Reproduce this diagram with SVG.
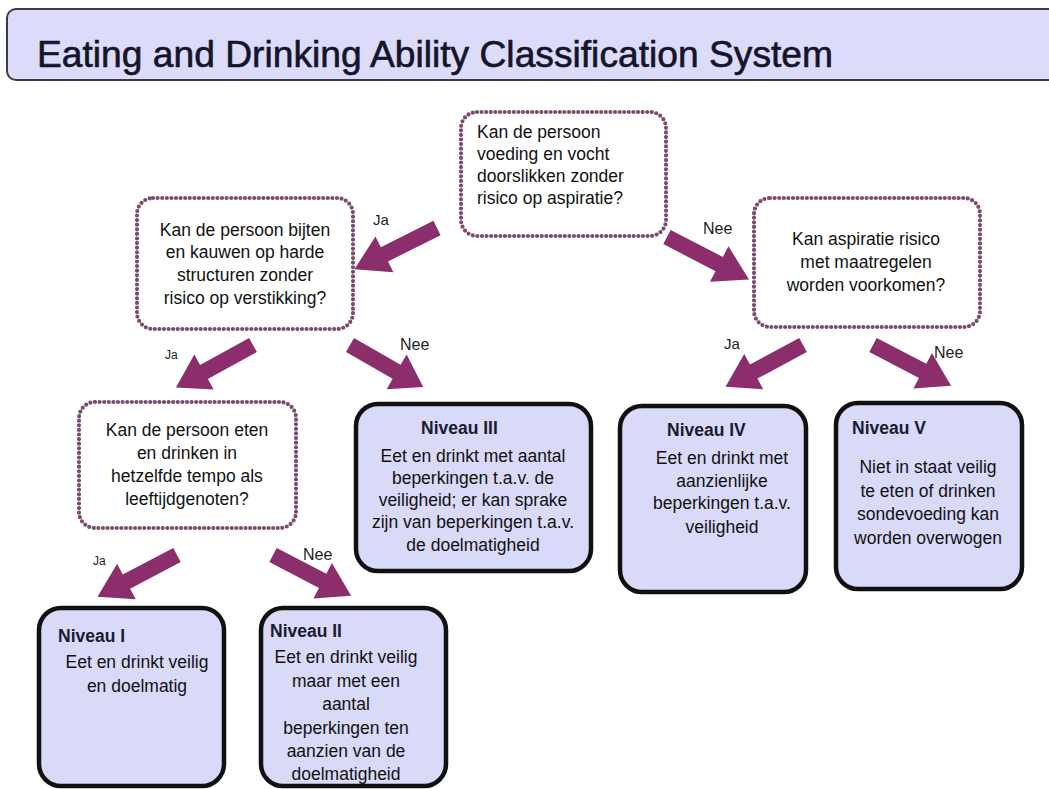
<svg xmlns="http://www.w3.org/2000/svg" width="1049" height="789" viewBox="0 0 1049 789">
<style>
.q{fill:#ffffff;stroke:#7a4c70;stroke-width:4.2;stroke-dasharray:0 4.6;stroke-linecap:round}
.lv{fill:#d9d9f8;stroke:#111;stroke-width:4.5}
.t{font-family:"Liberation Sans",Arial,sans-serif;font-size:17.5px;fill:#111}
.c{text-anchor:middle}
.b{font-weight:bold;fill:#1a1a30}
.lab{font-family:"Liberation Sans",Arial,sans-serif;fill:#222}
.arr{fill:#8c2d6c}
</style>
<defs>
<path id="arrow" d="M0,-8 L56,-8 L56,-20 L88,0 L56,20 L56,8 L0,8 Z"/>
</defs>
<rect x="0" y="0" width="1049" height="789" fill="#ffffff"/>
<g id="title">
<rect x="7" y="9" width="1060" height="71" rx="9" fill="#dcdcfa" stroke="#3a3a48" stroke-width="2"/>
<text x="37" y="67" font-family="Liberation Sans Narrow,Liberation Sans,Arial,sans-serif" font-size="36" fill="#14142a" stroke="#14142a" stroke-width="0.6" textLength="796" lengthAdjust="spacingAndGlyphs">Eating and Drinking Ability Classification System</text>
</g>
<g id="connectors" class="arr">
<use href="#arrow" transform="translate(437,228) rotate(153.4) scale(1.05,1)"/>
<use href="#arrow" transform="translate(667,237) rotate(27.4) scale(1.05,1)"/>
<use href="#arrow" transform="translate(253,345) rotate(151.1)"/>
<use href="#arrow" transform="translate(350,345) rotate(29.9) scale(0.96,1)"/>
<use href="#arrow" transform="translate(803,345) rotate(151.7)"/>
<use href="#arrow" transform="translate(873,345) rotate(27.5)"/>
<use href="#arrow" transform="translate(177,555) rotate(152.3) scale(1.02,1)"/>
<use href="#arrow" transform="translate(273,555) rotate(27.5)"/>
</g>
<g id="labels">
<text class="lab" x="373" y="225" font-size="15">Ja</text>
<text class="lab" x="703" y="234" font-size="16">Nee</text>
<text class="lab" x="165" y="359" font-size="12">Ja</text>
<text class="lab" x="400" y="350" font-size="16">Nee</text>
<text class="lab" x="724" y="349" font-size="15">Ja</text>
<text class="lab" x="934" y="358" font-size="16">Nee</text>
<text class="lab" x="93" y="565" font-size="12">Ja</text>
<text class="lab" x="303" y="560" font-size="16">Nee</text>
</g>
<g id="q1">
<rect class="q" x="461" y="112" width="205" height="124" rx="16"/>
<text class="t" x="477" y="138">Kan de persoon</text>
<text class="t" x="477" y="160">voeding en vocht</text>
<text class="t" x="477" y="182">doorslikken zonder</text>
<text class="t" x="477" y="204">risico op aspiratie?</text>
</g>
<g id="q2">
<rect class="q" x="137" y="198" width="216" height="131" rx="16"/>
<text class="t c" x="245" y="236">Kan de persoon bijten</text>
<text class="t c" x="245" y="258">en kauwen op harde</text>
<text class="t c" x="245" y="281">structuren zonder</text>
<text class="t c" x="245" y="304">risico op verstikking?</text>
</g>
<g id="q3">
<rect class="q" x="754" y="198" width="226" height="129" rx="16"/>
<text class="t c" x="866" y="245">Kan aspiratie risico</text>
<text class="t c" x="866" y="268">met maatregelen</text>
<text class="t c" x="866" y="291">worden voorkomen?</text>
</g>
<g id="q4">
<rect class="q" x="79" y="402" width="217" height="126" rx="16"/>
<text class="t c" x="187" y="436">Kan de persoon eten</text>
<text class="t c" x="187" y="459">en drinken in</text>
<text class="t c" x="187" y="482">hetzelfde tempo als</text>
<text class="t c" x="187" y="505">leeftijdgenoten?</text>
</g>
<g id="n3">
<rect class="lv" x="356" y="404" width="235" height="167" rx="22"/>
<text class="t b" x="421" y="434">Niveau III</text>
<text class="t c" x="473" y="462">Eet en drinkt met aantal</text>
<text class="t c" x="473" y="484">beperkingen t.a.v. de</text>
<text class="t c" x="473" y="506">veiligheid; er kan sprake</text>
<text class="t c" x="473" y="528">zijn van beperkingen t.a.v.</text>
<text class="t c" x="473" y="551">de doelmatigheid</text>
</g>
<g id="n4">
<rect class="lv" x="620" y="406" width="186" height="186" rx="22"/>
<text class="t b" x="667" y="436">Niveau IV</text>
<text class="t c" x="722" y="464">Eet en drinkt met</text>
<text class="t c" x="722" y="487">aanzienlijke</text>
<text class="t c" x="722" y="509">beperkingen t.a.v.</text>
<text class="t c" x="722" y="533">veiligheid</text>
</g>
<g id="n5">
<rect class="lv" x="836" y="403" width="186" height="186" rx="22"/>
<text class="t b" x="852" y="434">Niveau V</text>
<text class="t c" x="928" y="473">Niet in staat veilig</text>
<text class="t c" x="928" y="497">te eten of drinken</text>
<text class="t c" x="928" y="520">sondevoeding kan</text>
<text class="t c" x="928" y="544">worden overwogen</text>
</g>
<g id="n1">
<rect class="lv" x="39" y="608" width="185" height="178" rx="22"/>
<text class="t b" x="58" y="642">Niveau I</text>
<text class="t c" x="137" y="668">Eet en drinkt veilig</text>
<text class="t c" x="137" y="692">en doelmatig</text>
</g>
<g id="n2">
<rect class="lv" x="261" y="608" width="185" height="178" rx="22"/>
<text class="t b" x="270" y="637">Niveau II</text>
<text class="t c" x="346" y="663">Eet en drinkt veilig</text>
<text class="t c" x="346" y="687">maar met een</text>
<text class="t c" x="346" y="710">aantal</text>
<text class="t c" x="346" y="734">beperkingen ten</text>
<text class="t c" x="346" y="757">aanzien van de</text>
<text class="t c" x="346" y="780">doelmatigheid</text>
</g>
</svg>
